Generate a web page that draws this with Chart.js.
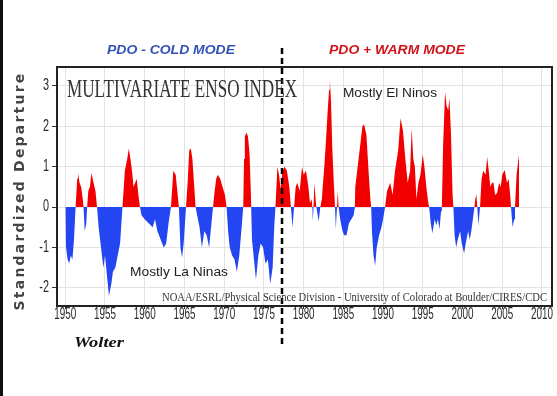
<!DOCTYPE html>
<html>
<head>
<meta charset="utf-8">
<script src="https://cdn.jsdelivr.net/npm/chart.js@4"></script>
<style>
html,body{margin:0;padding:0;background:#fff;}
canvas{display:block;}
</style>
</head>
<body>
<canvas id="c" width="557" height="396"></canvas>
<script>
// ---- data (decimal year, MEI value) ----
const years = [
1950.0,1950.1,1950.3,1950.5,1950.7,1950.9,1951.1,1951.3,1951.5,1951.6,1951.8,1952.0,1952.2,1952.3,1952.45,1952.65,1952.75,1952.9,1953.1,1953.3,1953.5,1953.8,1954.0,
1954.2,1954.5,1954.8,1955.0,1955.2,1955.5,1955.8,1956.0,1956.3,1956.6,1956.9,1957.1,1957.2,1957.5,1957.8,1958.0,1958.2,1958.4,1958.6,1958.8,1959.0,1959.2,1959.4,
1959.6,1960.0,1960.5,1961.0,1961.3,1961.6,1962.0,1962.4,1962.7,1963.0,1963.3,1963.6,1963.9,1964.2,1964.3,1964.5,1964.7,1964.9,1965.2,1965.4,1965.6,1965.8,1966.0,1966.2,1966.4,
1966.6,1966.9,1967.2,1967.5,1967.8,1968.1,1968.4,1968.6,1968.8,1969.0,1969.2,1969.5,1969.8,1970.1,1970.3,1970.5,1970.7,1971.0,1971.3,1971.6,1971.9,1972.2,1972.4,
1972.5,1972.6,1972.8,1973.0,1973.2,1973.35,1973.4,1973.5,1973.8,1974.0,1974.3,1974.6,1974.9,1975.2,1975.5,1975.8,1976.1,1976.3,1976.45,1976.7,1976.9,1977.1,1977.35,1977.6,1977.9,1978.2,1978.4,
1978.6,1978.8,1979.0,1979.2,1979.5,1979.8,1980.0,1980.3,1980.6,1980.8,1981.0,1981.1,1981.15,1981.25,1981.35,1981.5,1981.6,1981.9,1982.1,1982.3,
1982.4,1982.6,1982.8,1983.0,1983.2,1983.3,1983.45,1983.6,1983.8,1983.95,1984.05,1984.2,1984.3,1984.4,1984.6,1984.9,1985.1,1985.4,1985.7,1986.0,1986.3,1986.45,
1986.5,1986.8,1987.1,1987.4,1987.6,1987.9,1988.2,1988.4,1988.5,1988.6,1988.8,1989.0,1989.2,1989.5,1989.8,1990.0,1990.25,
1990.5,1990.9,1991.2,1991.5,1991.9,1992.2,1992.5,1992.8,1993.1,1993.4,1993.6,1993.8,1994.0,1994.2,1994.45,1994.7,1995.0,1995.2,1995.5,1995.7,1995.8,
1996.0,1996.2,1996.5,1996.7,1996.9,1997.1,1997.3,1997.4,1997.55,1997.8,1998.0,1998.2,1998.35,1998.55,1998.75,1998.85,
1999.0,1999.2,1999.4,1999.7,1999.9,2000.2,2000.4,2000.7,2000.9,2001.1,2001.3,2001.5,2001.6,2001.75,2001.85,2002.0,2002.2,
2002.4,2002.6,2002.9,2003.1,2003.3,2003.5,2003.7,2003.9,2004.1,2004.35,2004.6,2004.8,2005.0,2005.3,2005.6,2005.8,2006.0,2006.1,
2006.3,2006.5,2006.6,2006.8,2007.1,2007.12
];
const mei = [
0,-1.0,-1.3,-1.4,-1.2,-1.3,-0.8,0,0.7,0.85,0.6,0.5,0.2,0,-0.6,-0.4,0,0.4,0.5,0.85,0.65,0.4,0,
-0.5,-1.0,-1.5,-1.2,-1.6,-2.2,-1.9,-1.6,-1.5,-1.2,-0.9,-0.3,0,0.9,1.2,1.45,1.2,0.9,0.5,0.6,0.7,0.3,0,
-0.2,-0.3,-0.4,-0.5,-0.3,-0.6,-0.8,-1.0,-0.9,-0.4,0,0.9,0.8,0.2,0,-1.0,-1.25,-0.9,0,0.6,1.4,1.45,1.2,0.6,0,
-0.2,-0.5,-1.0,-0.6,-0.7,-1.0,-0.4,0,0.4,0.7,0.8,0.7,0.5,0.3,0,-0.6,-1.0,-1.2,-1.3,-1.6,-1.2,-0.5,0,
1.2,1.75,1.85,1.75,1.3,0.4,0,-0.8,-1.4,-1.8,-1.2,-0.9,-1.0,-1.4,-1.3,-1.9,-1.5,-0.5,0,1.0,0.8,0.45,0.9,1.0,0.9,0.5,0,
-0.5,0,0.5,0.6,0.4,1.0,0.8,0.9,0.5,0.1,0.2,0,-0.35,0,0.6,0.2,0,-0.35,0,0.2,
0.5,1.0,1.6,2.3,2.9,3.15,2.6,1.5,0.6,0,-0.55,0,0.4,0,-0.3,-0.6,-0.7,-0.7,-0.4,-0.3,-0.2,0,
0.5,1.0,1.5,2.0,2.05,1.8,0.8,0.2,0,-0.6,-1.2,-1.45,-1.0,-0.7,-0.5,-0.3,0,
0.4,0.6,0.3,0.9,1.4,2.2,1.9,1.2,0.6,0.9,1.95,1.2,1.0,0.2,0.6,0.8,1.3,1.0,0.4,0.1,0,
-0.4,-0.65,-0.3,-0.45,-0.3,-0.55,-0.1,0,1.5,2.85,2.5,2.4,2.7,1.8,0.3,0,
-0.7,-1.0,-0.8,-0.6,-0.9,-1.15,-0.9,-0.6,-0.8,-0.6,-0.3,0,0.2,0.3,0,-0.45,0,
0.7,0.9,0.8,1.24,0.9,0.5,0.6,0.6,0.3,0.35,0.6,0.5,0.8,0.92,0.6,0.7,0.3,0,
-0.5,-0.3,0,0.8,1.29,0
];
const xTicks = [1950,1955,1960,1965,1970,1975,1980,1985,1990,1995,2000,2005,2010];
const yTicks = [-2,-1,0,1,2,3];
const xRange = [1948.96, 2011.26];
const yRange = [-2.45, 3.47];
const pdoShiftYear = 1977.3;

const points = years.map((x,i)=>({x:x, y:mei[i]}));

function fitText(ctx, text, x, y, width, font, color, align){
  ctx.save();
  ctx.font = font;
  ctx.fillStyle = color;
  ctx.textBaseline = 'middle';
  const w = ctx.measureText(text).width;
  const s = width / w;
  ctx.translate(x, y);
  ctx.scale(s, 1);
  ctx.textAlign = align || 'left';
  ctx.fillText(text, 0, 0);
  ctx.restore();
}
function squeezeText(ctx, text, x, y, sx, font, color, align){
  ctx.save();
  ctx.font = font;
  ctx.fillStyle = color;
  ctx.textBaseline = 'middle';
  ctx.textAlign = align;
  ctx.translate(x, y);
  ctx.scale(sx, 1);
  ctx.fillText(text, 0, 0);
  ctx.restore();
}

const overlay = {
  id:'overlay',
  afterDraw(chart){
    const ctx = chart.ctx;
    const a = chart.chartArea;
    const xs = chart.scales.x;
    const ys = chart.scales.y;
    // outer frame (left edge)
    ctx.save();
    ctx.fillStyle = '#111';
    ctx.fillRect(0, 0, 3, 396);
    ctx.restore();
    // plot frame
    ctx.save();
    ctx.strokeStyle = '#222';
    ctx.lineWidth = 2;
    ctx.strokeRect(a.left, a.top, a.right - a.left, a.bottom - a.top);
    ctx.restore();
    // tick labels (condensed), placed with the library's scales
    const tf = '17px "Liberation Sans", Arial, sans-serif';
    xs.ticks.forEach(t => {
      squeezeText(ctx, String(t.value), xs.getPixelForValue(t.value), 314, 0.58, tf, '#2a2a2a', 'center');
    });
    ys.ticks.forEach(t => {
      squeezeText(ctx, String(t.value), 49, ys.getPixelForValue(t.value), 0.68, '16px "Liberation Sans", Arial, sans-serif', '#2a2a2a', 'right');
    });
    // dashed PDO shift line
    const dx = Math.round(xs.getPixelForValue(pdoShiftYear));
    ctx.save();
    ctx.strokeStyle = '#000';
    ctx.lineWidth = 2.5;
    ctx.setLineDash([6,4]);
    ctx.beginPath();
    ctx.moveTo(dx, 48);
    ctx.lineTo(dx, 348);
    ctx.stroke();
    ctx.restore();
    // texts
    fitText(ctx, 'PDO - COLD MODE', 107, 51, 128, 'italic bold 12px "Liberation Sans", Arial, sans-serif', '#3352b8');
    fitText(ctx, 'PDO + WARM MODE', 329, 51, 136, 'italic bold 12px "Liberation Sans", Arial, sans-serif', '#d0141a');
    fitText(ctx, 'MULTIVARIATE ENSO INDEX', 67, 90, 230, '25px "Liberation Serif", "Times New Roman", serif', '#333');
    fitText(ctx, 'Mostly El Ninos', 343, 93, 94, '13px "Liberation Sans", Arial, sans-serif', '#222');
    fitText(ctx, 'Mostly La Ninas', 130, 272, 98, '13px "Liberation Sans", Arial, sans-serif', '#222');
    fitText(ctx, 'NOAA/ESRL/Physical Science Division - University of Colorado at Boulder/CIRES/CDC', 162, 298, 385, '12px "Liberation Serif", "Times New Roman", serif', '#333');
    fitText(ctx, 'Wolter', 74, 343, 50, 'italic bold 15px "Liberation Serif", "Times New Roman", serif', '#111');
    // y axis title
    ctx.save();
    ctx.translate(20, 191);
    ctx.rotate(-Math.PI/2);
    ctx.font = 'bold 14px "DejaVu Sans", sans-serif';
    ctx.fillStyle = '#444';
    ctx.textAlign = 'center';
    ctx.textBaseline = 'middle';
    try { ctx.letterSpacing = '2.2px'; } catch(e) {}
    ctx.fillText('Standardized Departure', 0, 0);
    ctx.restore();
  }
};

new Chart(document.getElementById('c'), {
  type:'line',
  data:{datasets:[{
    data: points,
    borderWidth: 0,
    borderColor: 'rgba(0,0,0,0)',
    pointRadius: 0,
    tension: 0,
    fill: {target:'origin', above:'#f20000', below:'#2346f2'}
  }]},
  options:{
    responsive:false,
    animation:false,
    devicePixelRatio:1,
    layout:{padding:{top:67, right:5, left:0, bottom:0}},
    plugins:{legend:{display:false}, tooltip:{enabled:false}, title:{display:false}},
    scales:{
      x:{
        type:'linear', min:xRange[0], max:xRange[1],
        afterBuildTicks:(s)=>{ s.ticks = xTicks.map(v=>({value:v})); },
        afterFit:(s)=>{ s.height = 90; },
        grid:{color:'#e3e3e3', tickColor:'#333', tickLength:3, lineWidth:1},
        border:{display:false},
        ticks:{display:false}
      },
      y:{
        min:yRange[0], max:yRange[1],
        afterBuildTicks:(s)=>{ s.ticks = yTicks.map(v=>({value:v})); },
        afterFit:(s)=>{ s.width = 57; },
        grid:{color:'#e3e3e3', tickColor:'#333', tickLength:5, lineWidth:1},
        border:{display:false},
        ticks:{display:false}
      }
    }
  },
  plugins:[overlay]
});
</script>
</body>
</html>
